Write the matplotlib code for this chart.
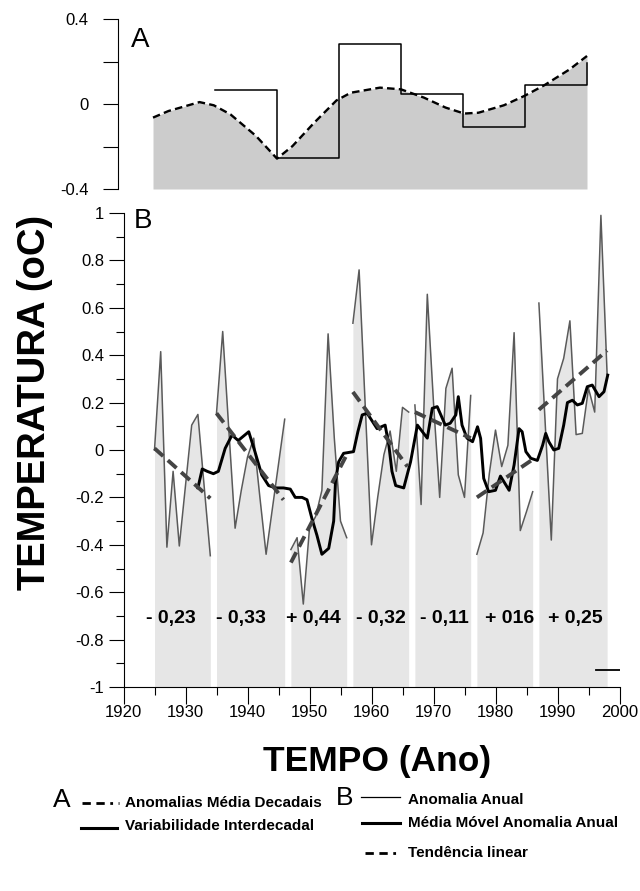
import matplotlib.pyplot as plt
from matplotlib.ticker import MultipleLocator

plt.rcParams["font.family"] = ["Liberation Sans", "DejaVu Sans"]

W, H = 640, 891

# ---- panel A: decadal anomalies ----
a_years = [1925, 1927.5, 1932.5, 1934.8, 1937.5, 1941.6, 1945, 1947.5, 1951,
           1954.6, 1956.9, 1961.6, 1965, 1968.7, 1972.2, 1975.2, 1977.5,
           1981.6, 1984.9, 1988.1, 1992.2, 1995]
a_curve = [-0.064, -0.033, 0.009, -0.006, -0.049, -0.15, -0.257, -0.198, -0.088,
           0.017, 0.053, 0.077, 0.069, 0.03, -0.017, -0.045, -0.041,
           -0.006, 0.038, 0.088, 0.163, 0.226]
decade_edges = [1935, 1945, 1955, 1965, 1975, 1985, 1995]
decade_means = [0.066, -0.253, 0.284, 0.045, -0.107, 0.089, 0.195]
a_ticks = [-0.4, -0.2, 0, 0.2, 0.4]
a_ticklabels = ["-0.4", "", "0", "", "0.4"]

# ---- panel B: annual anomalies, one list per period ----
seg_starts = [1925, 1935, 1947, 1957, 1967, 1977, 1987]
seg1 = [0.0, 0.415, -0.41, -0.09, -0.405, -0.15, 0.105, 0.15, -0.15, -0.446]
seg2 = [0.155, 0.50, 0.08, -0.33, -0.17, -0.03, 0.05, -0.2, -0.44, -0.25, -0.06, 0.13]
seg3 = [-0.42, -0.37, -0.65, -0.33, -0.28, -0.17, 0.49, 0.05, -0.30, -0.37]
seg4 = [0.535, 0.76, 0.18, -0.40, -0.2, -0.02, 0.08, -0.09, 0.18, 0.16]
seg5 = [0.19, -0.23, 0.657, 0.2, -0.20, 0.26, 0.345, -0.105, -0.20, 0.23]
seg6 = [-0.44, -0.35, -0.1, 0.084, -0.07, 0.02, 0.495, -0.34, -0.26, -0.176]
seg7 = [0.62, 0.12, -0.38, 0.30, 0.387, 0.545, 0.065, 0.07, 0.26, 0.16, 0.99, 0.32]
segments = [seg1, seg2, seg3, seg4, seg5, seg6, seg7]

# linear trend per period (start, end)
trend_x = [(1925, 1934), (1935, 1945.8), (1947, 1956), (1957, 1965.8),
           (1967, 1976), (1977, 1986), (1987, 1998)]
trend_y = [(0.007, -0.204), (0.155, -0.21), (-0.475, -0.02), (0.245, -0.07),
           (0.16, 0.05), (-0.20, -0.04), (0.17, 0.42)]
rates = ["- 0,23", "- 0,33", "+ 0,44", "- 0,32", "- 0,11", "+ 016", "+ 0,25"]
rate_x = [1927.7, 1939.0, 1950.7, 1961.5, 1971.8, 1982.2, 1992.9]

# moving average of the annual anomaly
ma_years = [1932.0, 1932.7, 1933.5, 1934.5, 1935.3, 1936.4, 1937.5, 1938.5, 1940.2,
            1941.2, 1942.3, 1943.4, 1944.5, 1945.8, 1946.9, 1947.7, 1948.8, 1949.6,
            1950.4, 1951.2, 1952.0, 1953.1, 1953.9, 1954.2, 1954.7, 1955.5, 1957.1,
            1957.8, 1958.5, 1959.3, 1960.9, 1962.2, 1962.8, 1963.3, 1963.9, 1965.2,
            1966.3, 1967.4, 1969.0, 1969.8, 1970.6, 1971.9, 1972.7, 1973.6, 1974.0,
            1974.6, 1975.4, 1976.3, 1977.1, 1977.6, 1978.1, 1978.9, 1980.0, 1980.8,
            1982.2, 1983.0, 1983.8, 1984.3, 1984.9, 1985.7, 1986.75, 1987.6, 1988.1,
            1988.6, 1989.4, 1990.2, 1991.0, 1991.6, 1992.4, 1993.2, 1994.0, 1994.8,
            1995.6, 1996.7, 1997.5, 1998.1]
ma_values = [-0.16, -0.08, -0.09, -0.10, -0.09, 0.007, 0.063, 0.04, 0.077,
             -0.007, -0.105, -0.15, -0.16, -0.16, -0.165, -0.20, -0.20, -0.21,
             -0.29, -0.36, -0.44, -0.415, -0.30, -0.13, -0.05, -0.014, -0.007,
             0.077, 0.148, 0.155, 0.09, 0.105, 0.02, -0.09, -0.15, -0.16,
             -0.05, 0.105, 0.05, 0.176, 0.183, 0.105, 0.113, 0.148, 0.225,
             0.105, 0.05, 0.035, 0.098, 0.049, -0.12, -0.176, -0.17, -0.11,
             -0.17, -0.063, 0.09, 0.077, -0.007, -0.035, -0.044, 0.02, 0.07,
             0.035, 0.0, 0.007, 0.105, 0.2, 0.21, 0.19, 0.197, 0.267,
             0.274, 0.225, 0.246, 0.316]

b_ticks = [-1, -0.8, -0.6, -0.4, -0.2, 0, 0.2, 0.4, 0.6, 0.8, 1]
b_ticklabels = ["-1", "-0.8", "-0.6", "-0.4", "-0.2", "0", "0.2", "0.4", "0.6", "0.8", "1"]
x_ticks = [1920, 1930, 1940, 1950, 1960, 1970, 1980, 1990, 2000]

fig = plt.figure(figsize=(W / 100, H / 100), dpi=100)


def px_axes(left, top, right, bottom):
    return fig.add_axes([left / W, 1 - bottom / H, (right - left) / W, (bottom - top) / H])


# ---------- panel A ----------
axA = px_axes(118, 19, 619.5, 189)
x0 = 1925 - (153 - 118) / 6.2
axA.set_xlim(x0, x0 + (619.5 - 118) / 6.2)
axA.set_ylim(-0.4, 0.4)
axA.fill_between(a_years, a_curve, -0.4, color="#cccccc", lw=0)
axA.plot(a_years, a_curve, color="black", lw=1.7, dashes=(3.2, 1.8))
axA.plot(decade_edges, decade_means, color="black", lw=1.1, drawstyle="steps-post")
for s in ["top", "right", "bottom"]:
    axA.spines[s].set_visible(False)
axA.spines["left"].set_linewidth(0.8)
axA.set_xticks([])
axA.set_yticks(a_ticks)
axA.set_yticklabels(a_ticklabels, fontsize=12)
axA.tick_params(axis="y", direction="out", length=11, width=0.8, pad=10)
fig.text(140 / W, 1 - 40 / H, "A", fontsize=20, ha="center", va="center")

# ---------- panel B ----------
axB = px_axes(123.5, 213, 619.5, 687)
axB.set_xlim(1920, 2000)
axB.set_ylim(-1, 1)
for start, vals in zip(seg_starts, segments):
    yrs = list(range(start, start + len(vals)))
    axB.fill_between(yrs, vals, -1, color="#e6e6e6", lw=0)
    axB.plot(yrs, vals, color="#5a5a5a", lw=1.1)
axB.plot(ma_years, ma_values, color="black", lw=2.1, solid_joinstyle="round")
for (xa, xb), (ya, yb) in zip(trend_x, trend_y):
    axB.plot([xa, xb], [ya, yb], color="#444444", lw=2.8, dashes=(3, 1.6), zorder=4)
for label, xr in zip(rates, rate_x):
    axB.text(xr, -0.71, label, fontsize=14, fontweight="bold", ha="center", va="center")
axB.plot([1996.2, 2000], [-0.93, -0.93], color="black", lw=1.3)

for s in ["top", "right"]:
    axB.spines[s].set_visible(False)
axB.spines["left"].set_linewidth(0.8)
axB.spines["bottom"].set_linewidth(0.8)
axB.set_yticks(b_ticks)
axB.set_yticklabels(b_ticklabels, fontsize=12)
axB.set_xticks(x_ticks)
axB.set_xticklabels([str(t) for t in x_ticks], fontsize=12)
axB.xaxis.set_minor_locator(MultipleLocator(5))
axB.yaxis.set_minor_locator(MultipleLocator(0.1))
axB.tick_params(which="major", direction="out", length=11, width=0.8, pad=3)
axB.tick_params(which="minor", direction="out", length=6, width=0.8)
axB.tick_params(axis="x", which="major", length=12, pad=1)
fig.text(143 / W, 1 - 221 / H, "B", fontsize=20, ha="center", va="center")

fig.text(35 / W, 1 - 402 / H, "TEMPERATURA (oC)", rotation=90, fontsize=27.5,
         fontweight="bold", ha="center", va="center")
fig.text(377 / W, 1 - 762 / H, "TEMPO (Ano)", fontsize=25.5,
         fontweight="bold", ha="center", va="center")

# ---------- legend (pixel coordinates) ----------
lg = fig.add_axes([0, 0, 1, 1])
lg.set_xlim(0, W)
lg.set_ylim(H, 0)
lg.axis("off")
lfs = 11
mix = (3, 2, 3, 2, 1, 2)
lg.text(62, 800, "A", fontsize=19, ha="center", va="center")
lg.plot([82, 119], [803, 803], color="black", lw=2, dashes=mix)
lg.text(125, 803, "Anomalias Média Decadais", fontsize=lfs, fontweight="bold", va="center")
lg.text(345, 798, "B", fontsize=19, ha="center", va="center")
lg.plot([361, 400], [797, 797], color="black", lw=0.9)
lg.text(408, 800, "Anomalia Anual", fontsize=lfs, fontweight="bold", va="center")
lg.plot([81, 117], [828, 828], color="black", lw=2.2)
lg.text(125, 826, "Variabilidade Interdecadal", fontsize=lfs, fontweight="bold", va="center")
lg.plot([362, 400], [823, 823], color="black", lw=2.2)
lg.text(408, 823, "Média Móvel Anomalia Anual", fontsize=lfs, fontweight="bold", va="center")
lg.plot([365, 400], [853, 853], color="black", lw=2, dashes=mix)
lg.text(408, 853, "Tendência linear", fontsize=lfs, fontweight="bold", va="center")

fig.savefig("out.png", dpi=100)
